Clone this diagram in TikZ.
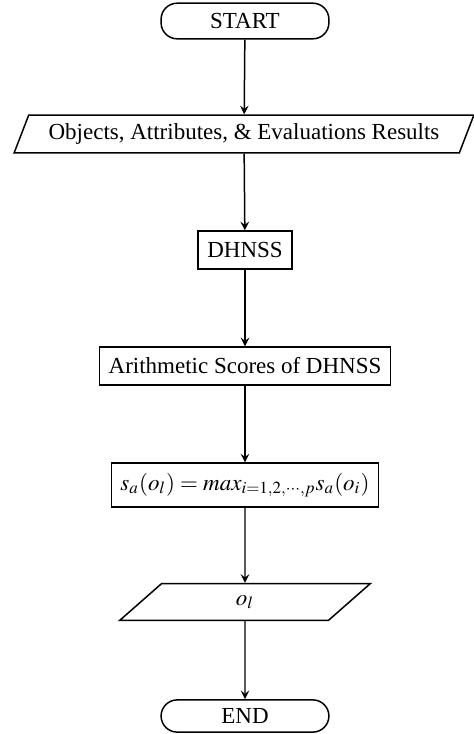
\documentclass[tikz,border=0pt]{standalone}
\usepackage{mathptmx}
\usepackage{fontspec}
\setmainfont{Liberation Serif}
\usetikzlibrary{shapes.geometric}
\begin{document}
\begin{tikzpicture}[>=stealth,x=0.435pt,y=-0.435pt,
    every node/.style={font=\fontsize{10}{12}\selectfont,line width=0.65pt},
    term/.style={draw,rectangle,rounded corners=7pt,minimum width=73pt},
    proc/.style={draw,rectangle,minimum height=16.5pt,inner xsep=4pt},
    io/.style={draw,trapezium,trapezium stretches body,minimum height=16.5pt},
    flow/.style={->,line width=0.65pt}]
    \useasboundingbox (0,0) rectangle (474,734);
    \node[term,minimum height=15.5pt] (start) at (245,21) {START};
    \node[io,trapezium left angle=68,trapezium right angle=112,minimum width=200pt] (data) at (244,134) {Objects, Attributes, \& Evaluations Results};
    \node[proc] (dhnss) at (245,250) {DHNSS};
    \node[proc] (score) at (245,366) {Arithmetic Scores of DHNSS};
    \node[proc,minimum height=19pt] (best) at (245,485) {$s_a(o_l)=max_{i=1,2,\cdots,p}s_a(o_i)$};
    \node[io,trapezium left angle=35,trapezium right angle=145,minimum width=109pt,minimum height=16pt] (out) at (245,602) {$o_l$};
    \node[term,minimum height=14pt] (end) at (245,716) {END};
    % arrows
    \draw[flow] (start) -- (data);
    \draw[flow] (data) -- (dhnss);
    \draw[flow] (dhnss) -- (score);
    \draw[flow] (score) -- (best);
    \draw[flow] (best) -- (out);
    \draw[flow] (out) -- (end);
\end{tikzpicture}
\end{document}
